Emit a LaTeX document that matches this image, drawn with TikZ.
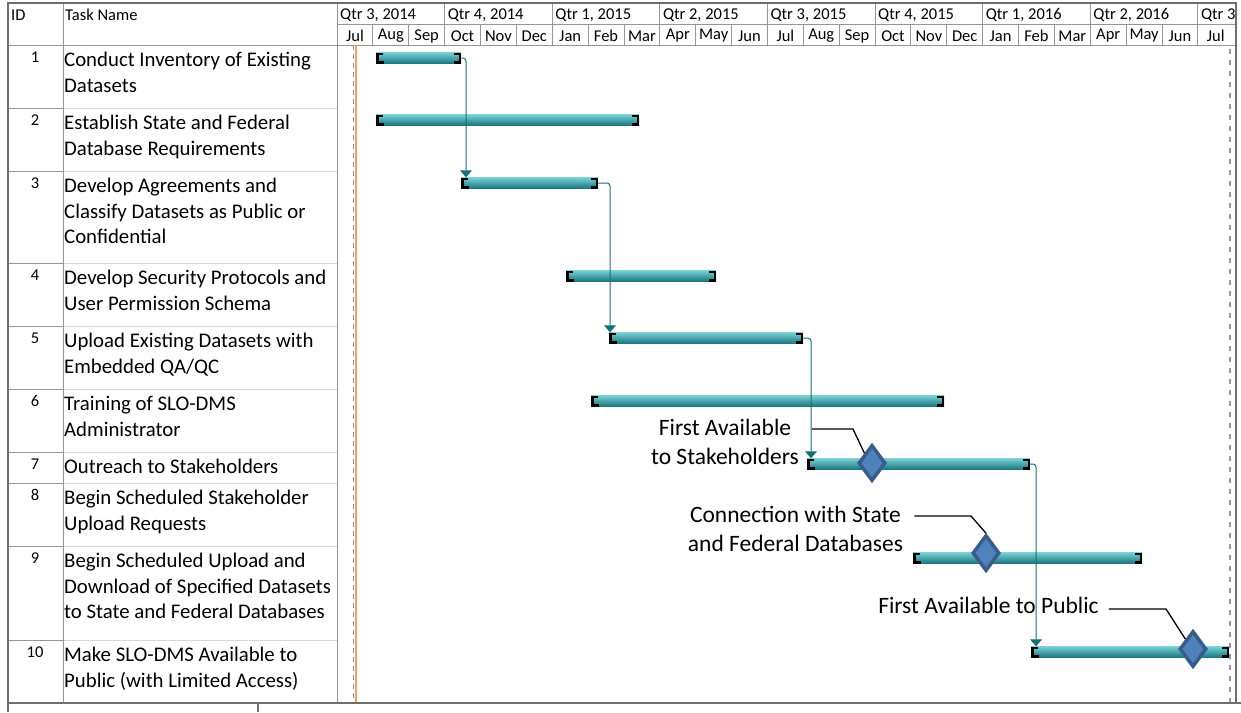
\documentclass[tikz,border=0pt]{standalone}
\usepackage{fontspec}
\setmainfont{Carlito}
\usetikzlibrary{arrows.meta,shapes.geometric,positioning}

\definecolor{framegray}{RGB}{110,110,110}
\definecolor{gridgray}{RGB}{150,150,150}
\definecolor{rowgray}{RGB}{215,215,215}
\definecolor{barlight}{RGB}{120,208,213}
\definecolor{barmid}{RGB}{58,178,186}
\definecolor{bardark}{RGB}{24,118,126}
\definecolor{linkteal}{RGB}{24,110,118}
\definecolor{msblue}{RGB}{79,129,189}
\definecolor{msedge}{RGB}{56,93,138}
\definecolor{todayline}{RGB}{246,160,100}

\tikzset{
  frameline/.style={draw=framegray,line width=1.2pt},
  gridline/.style={draw=gridgray,line width=0.9pt},
  rowline/.style={draw=rowgray,line width=1pt},
  hdrtext/.style={font=\fontsize{16.5}{19}\selectfont,inner sep=0pt},
  idtext/.style={font=\fontsize{16.5}{19}\selectfont,inner sep=0pt},
  tasktext/.style={font=\fontsize{20.8}{25.5}\selectfont,align=left,anchor=north west,inner sep=0pt},
  callout/.style={font=\fontsize{23.5}{29}\selectfont,align=center,inner sep=0pt},
  taskbar/.style={rectangle,inner sep=0pt,minimum height=11pt,anchor=west,
    top color=barlight,middle color=barmid,bottom color=bardark,
    path picture={
      \draw[black,line width=2.6pt]
        ([xshift=7pt,yshift=-1.3pt]path picture bounding box.north west)
        -| ([xshift=1.3pt,yshift=1.3pt]path picture bounding box.south west) -- ++(6pt,0);
      \draw[black,line width=2.6pt]
        ([xshift=-7pt,yshift=-1.3pt]path picture bounding box.north east)
        -| ([xshift=-1.3pt,yshift=1.3pt]path picture bounding box.south east) -- ++(-6pt,0);
    }},
  milestone/.style={diamond,inner sep=0pt,minimum width=27pt,minimum height=36pt,
    fill=msblue,draw=msedge,line width=3.5pt},
  link/.style={draw=linkteal,line width=1pt,rounded corners=3pt,
    -{Triangle[width=12pt,length=7pt]}},
  leader/.style={draw=black,line width=1.3pt}
}

\begin{document}
\begin{tikzpicture}[x=1pt,y=1pt,yscale=-1,xscale=1]
\useasboundingbox (0,0) rectangle (1241,712);

%Shape: table rows
\draw[rowline] (63,108) -- (337,108);
\draw[rowline] (63,171) -- (337,171);
\draw[rowline] (63,263) -- (337,263);
\draw[rowline] (63,326) -- (337,326);
\draw[rowline] (63,389) -- (337,389);
\draw[rowline] (63,452) -- (337,452);
\draw[rowline] (63,483) -- (337,483);
\draw[rowline] (63,546) -- (337,546);
\draw[rowline] (63,640) -- (337,640);
\foreach \y in {108,171,263,326,389,452,483,546,640}
  \draw[gridline] (8,\y) -- (63,\y);

%Shape: header grid
\draw[gridline] (337,24) -- (1236,24);
\draw[gridline] (8,45) -- (1236,45);
\foreach \i in {1,...,8}
  \draw[gridline] ({337+\i*107.6},3) -- ({337+\i*107.6},24);
\foreach \i in {1,...,24}
  \draw[gridline] ({337+\i*35.87},24) -- ({337+\i*35.87},45);
\draw[gridline] (63,3) -- (63,703);
\draw[gridline] (337,3) -- (337,703);

%Shape: status lines
\draw[draw=todayline,line width=1.6pt] (356,45) -- (356,703);
\draw[draw=gridgray,line width=1.6pt,dash pattern=on 5pt off 4pt] (353.5,45) -- (353.5,703);
\draw[draw=gridgray,line width=1.6pt,dash pattern=on 5pt off 6pt] (1230,49) -- (1230,703);

%Shape: outer frame
\draw[frameline] (8,712) -- (8,3) -- (1236,3) -- (1236,703);
\draw[frameline] (8,703) -- (1241,703);
\draw[frameline] (258,703) -- (258,712);

% Text Node
\node[hdrtext,anchor=west] (hid) at (11,15) {ID};
\node[hdrtext,anchor=west] (hname) at (65,15) {Task Name};
\begin{scope}
\clip (337,3) rectangle (1234,45);
\foreach \q [count=\i from 0] in {{Qtr 3, 2014},{Qtr 4, 2014},{Qtr 1, 2015},{Qtr 2, 2015},{Qtr 3, 2015},{Qtr 4, 2015},{Qtr 1, 2016},{Qtr 2, 2016},{Qtr 3}}
  \node[hdrtext,anchor=west] (qtr\i) at ({340+\i*107.6},15) {\q};
\end{scope}
\foreach \m [count=\i from 0] in {Jul,Aug,Sep,Oct,Nov,Dec,Jan,Feb,Mar,Apr,May,Jun,Jul,Aug,Sep,Oct,Nov,Dec,Jan,Feb,Mar,Apr,May,Jun,Jul}
  \node[hdrtext] (mon\i) at ({337+(\i+0.5)*35.87},36) {\m};

% Text Node
\node[idtext] (id1) at (35,57) {1};
\node[idtext] (id2) at (35,120) {2};
\node[idtext] (id3) at (35,183) {3};
\node[idtext] (id4) at (35,275) {4};
\node[idtext] (id5) at (35,338) {5};
\node[idtext] (id6) at (35,401) {6};
\node[idtext] (id7) at (35,464) {7};
\node[idtext] (id8) at (35,495) {8};
\node[idtext] (id9) at (35,558) {9};
\node[idtext] (id10) at (35,652) {10};

% Text Node
\node[tasktext] (t1) at (64,52) {Conduct Inventory of Existing\\Datasets};
\node[tasktext] (t2) at (64,115) {Establish State and Federal\\Database Requirements};
\node[tasktext] (t3) at (64,178) {Develop Agreements and\\Classify Datasets as Public or\\Confidential};
\node[tasktext] (t4) at (64,270) {Develop Security Protocols and\\User Permission Schema};
\node[tasktext] (t5) at (64,333) {Upload Existing Datasets with\\Embedded QA/QC};
\node[tasktext] (t6) at (64,396) {Training of SLO-DMS\\Administrator};
\node[tasktext] (t7) at (64,459) {Outreach to Stakeholders};
\node[tasktext] (t8) at (64,490) {Begin Scheduled Stakeholder\\Upload Requests};
\node[tasktext] (t9) at (64,553) {Begin Scheduled Upload and\\Download of Specified Datasets\\to State and Federal Databases};
\node[tasktext] (t10) at (64,647) {Make SLO-DMS Available to\\Public (with Limited Access)};

%Shape: task bars
\node[taskbar,minimum width=85pt] (b1) at (376,58) {};
\node[taskbar,minimum width=263pt] (b2) at (376,120) {};
\node[taskbar,minimum width=137pt] (b3) at (461,183) {};
\node[taskbar,minimum width=150pt] (b4) at (566,276) {};
\node[taskbar,minimum width=194pt] (b5) at (609,338) {};
\node[taskbar,minimum width=353pt] (b6) at (591,401) {};
\node[taskbar,minimum width=223pt] (b7) at (807,464) {};
\node[taskbar,minimum width=229pt] (b9) at (913,558) {};
\node[taskbar,minimum width=198pt] (b10) at (1031,652) {};

%Straight Lines: links
\draw[link] (b1.east) -| ([xshift=5pt]b3.north west);
\draw[link] (b3.east) -| ([xshift=1pt]b5.north west);
\draw[link] (b5.east) -| ([xshift=4pt]b7.north west);
\draw[link] (b7.east) -| ([xshift=5pt]b10.north west);

%Shape: milestones
\node[milestone] (m1) at (872,463) {};
\node[milestone] (m2) at (986,553) {};
\node[milestone] (m3) at (1193,649) {};

% Text Node
\node[callout] (c1) at (725,442) {First Available\\to Stakeholders};
\node[callout] (c2) at (795.5,528.5) {Connection with State\\and Federal Databases};
\node[callout] (c3) at (988.5,605) {First Available to Public};

%Straight Lines: leaders
\coordinate (k1) at (853,429);
\coordinate (k2) at (971,516);
\coordinate (k3) at (1166,609);
\draw[leader] ([xshift=13pt]c1.east |- k1) -- (k1) -- (m1.north west);
\draw[leader] ([xshift=11pt]c2.east |- k2) -- (k2) -- (m2.north);
\draw[leader] ([xshift=10pt]c3.east |- k3) -- (k3) -- (m3.north west);

\end{tikzpicture}
\end{document}
